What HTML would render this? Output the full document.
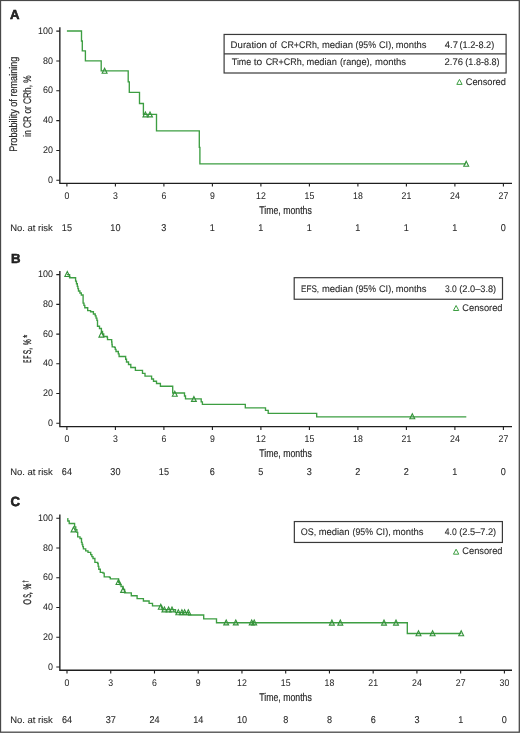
<!DOCTYPE html>
<html><head><meta charset="utf-8"><style>
html,body{margin:0;padding:0;background:#fff;overflow:hidden;}
svg{display:block;filter:blur(0.3px);}
text{font-family:"Liberation Sans",sans-serif;fill:#2a2a2a;stroke:#2a2a2a;stroke-width:0.1px;text-rendering:geometricPrecision;}
.c{stroke:#2a2a2a;stroke-width:0.2px;}
.cb{stroke:#2a2a2a;stroke-width:0.38px;}
.t{stroke-width:0.05px;}
</style></head><body>
<svg width="520" height="733" viewBox="0 0 520 733">
<rect x="0" y="0" width="520" height="733" fill="#fff"/>
<rect x="0.5" y="0.45" width="518.8" height="731.75" fill="none" stroke="#484848" stroke-width="1.3"/>
<text x="10" y="19.2" font-size="13.2" font-weight="bold" fill="#000" style="stroke:#000;stroke-width:0.5px">A</text>
<path d="M59.85,27.2V183.3H512" fill="none" stroke="#1e1e1e" stroke-width="1.35"/>
<text x="53" y="182.9" font-size="9.6" text-anchor="end" textLength="4.96" lengthAdjust="spacingAndGlyphs" class="t">0</text>
<text x="53" y="153.06" font-size="9.6" text-anchor="end" textLength="9.93" lengthAdjust="spacingAndGlyphs" class="t">20</text>
<text x="53" y="123.22" font-size="9.6" text-anchor="end" textLength="9.93" lengthAdjust="spacingAndGlyphs" class="t">40</text>
<text x="53" y="93.38" font-size="9.6" text-anchor="end" textLength="9.93" lengthAdjust="spacingAndGlyphs" class="t">60</text>
<text x="53" y="63.54" font-size="9.6" text-anchor="end" textLength="9.93" lengthAdjust="spacingAndGlyphs" class="t">80</text>
<text x="53" y="33.7" font-size="9.6" text-anchor="end" textLength="14.89" lengthAdjust="spacingAndGlyphs" class="t">100</text>
<text x="66.9" y="198.9" font-size="9.7" text-anchor="middle" textLength="4.85" lengthAdjust="spacingAndGlyphs" class="t">0</text>
<text x="115.4" y="198.9" font-size="9.7" text-anchor="middle" textLength="4.85" lengthAdjust="spacingAndGlyphs" class="t">3</text>
<text x="163.9" y="198.9" font-size="9.7" text-anchor="middle" textLength="4.85" lengthAdjust="spacingAndGlyphs" class="t">6</text>
<text x="212.4" y="198.9" font-size="9.7" text-anchor="middle" textLength="4.85" lengthAdjust="spacingAndGlyphs" class="t">9</text>
<text x="260.9" y="198.9" font-size="9.7" text-anchor="middle" textLength="9.71" lengthAdjust="spacingAndGlyphs" class="t">12</text>
<text x="309.4" y="198.9" font-size="9.7" text-anchor="middle" textLength="9.71" lengthAdjust="spacingAndGlyphs" class="t">15</text>
<text x="357.9" y="198.9" font-size="9.7" text-anchor="middle" textLength="9.71" lengthAdjust="spacingAndGlyphs" class="t">18</text>
<text x="406.4" y="198.9" font-size="9.7" text-anchor="middle" textLength="9.71" lengthAdjust="spacingAndGlyphs" class="t">21</text>
<text x="454.9" y="198.9" font-size="9.7" text-anchor="middle" textLength="9.71" lengthAdjust="spacingAndGlyphs" class="t">24</text>
<text x="503.4" y="198.9" font-size="9.7" text-anchor="middle" textLength="9.71" lengthAdjust="spacingAndGlyphs" class="t">27</text>
<path d="M56.3,180.3H59.85M56.3,150.46H59.85M56.3,120.62H59.85M56.3,90.78H59.85M56.3,60.94H59.85M56.3,31.1H59.85M66.9,183.3V186.6M115.4,183.3V186.6M163.9,183.3V186.6M212.4,183.3V186.6M260.9,183.3V186.6M309.4,183.3V186.6M357.9,183.3V186.6M406.4,183.3V186.6M454.9,183.3V186.6M503.4,183.3V186.6" stroke="#1e1e1e" stroke-width="1.1"/>
<text x="285.5" y="213.7" font-size="11.2" text-anchor="middle" textLength="52.6" lengthAdjust="spacingAndGlyphs" class="c">Time, months</text>
<text x="10.2" y="231.3" font-size="9.4" textLength="42.6" lengthAdjust="spacingAndGlyphs">No. at risk</text>
<text x="66.9" y="231.3" font-size="9.9" text-anchor="middle" textLength="10.13" lengthAdjust="spacingAndGlyphs">15</text>
<text x="115.4" y="231.3" font-size="9.9" text-anchor="middle" textLength="10.13" lengthAdjust="spacingAndGlyphs">10</text>
<text x="163.9" y="231.3" font-size="9.9" text-anchor="middle" textLength="5.06" lengthAdjust="spacingAndGlyphs">3</text>
<text x="212.4" y="231.3" font-size="9.9" text-anchor="middle" textLength="5.06" lengthAdjust="spacingAndGlyphs">1</text>
<text x="260.9" y="231.3" font-size="9.9" text-anchor="middle" textLength="5.06" lengthAdjust="spacingAndGlyphs">1</text>
<text x="309.4" y="231.3" font-size="9.9" text-anchor="middle" textLength="5.06" lengthAdjust="spacingAndGlyphs">1</text>
<text x="357.9" y="231.3" font-size="9.9" text-anchor="middle" textLength="5.06" lengthAdjust="spacingAndGlyphs">1</text>
<text x="406.4" y="231.3" font-size="9.9" text-anchor="middle" textLength="5.06" lengthAdjust="spacingAndGlyphs">1</text>
<text x="454.9" y="231.3" font-size="9.9" text-anchor="middle" textLength="5.06" lengthAdjust="spacingAndGlyphs">1</text>
<text x="503.4" y="231.3" font-size="9.9" text-anchor="middle" textLength="5.06" lengthAdjust="spacingAndGlyphs">0</text>
<text transform="translate(16.8,104.2) rotate(-90)" x="0" y="0" font-size="11.0" text-anchor="middle" textLength="95.2" lengthAdjust="spacingAndGlyphs" class="c">Probability of remaining</text>
<text transform="translate(30.8,106) rotate(-90)" x="0" y="0" font-size="11.0" text-anchor="middle" textLength="61.4" lengthAdjust="spacingAndGlyphs" class="c">in CR or CRh, %</text>
<path d="M66.9,31H81.5V41H82.3V50.8H85.4V60.8H101.2V70.8H128.2V81.9H129.3V92.4H139.5V103.5H143.4V114.4H156.5V130.8H199.3V147.4H199.9V163.8H466" fill="none" stroke="#3d9e42" stroke-width="1.35"/>
<g fill="none" stroke="#34923a" stroke-width="1.1"><path d="M104.6,68.3L107.05,73.3H102.15Z"/><path d="M145.4,111.9L147.85,116.9H142.95Z"/><path d="M150,111.9L152.45,116.9H147.55Z"/><path d="M466.2,161.3L468.65,166.3H463.75Z"/></g>
<rect x="224.1" y="34.45" width="282" height="38.55" fill="#fff" stroke="#3a3a3a" stroke-width="1.2"/>
<text x="230.63" y="47.7" font-size="9.6" textLength="36.29" lengthAdjust="spacingAndGlyphs">Duration</text>
<text x="269.75" y="47.7" font-size="9.6" textLength="7.24" lengthAdjust="spacingAndGlyphs">of</text>
<text x="280.95" y="47.7" font-size="9.6" textLength="38.42" lengthAdjust="spacingAndGlyphs">CR+CRh,</text>
<text x="321.99" y="47.7" font-size="9.6" textLength="30.92" lengthAdjust="spacingAndGlyphs">median</text>
<text x="355.58" y="47.7" font-size="9.6" textLength="20.43" lengthAdjust="spacingAndGlyphs">(95%</text>
<text x="378.94" y="47.7" font-size="9.6" textLength="14.85" lengthAdjust="spacingAndGlyphs">CI),</text>
<text x="395.69" y="47.7" font-size="9.6" textLength="30.83" lengthAdjust="spacingAndGlyphs">months</text>
<text x="444.81" y="47.7" font-size="9.6" textLength="13.27" lengthAdjust="spacingAndGlyphs">4.7</text>
<text x="459.55" y="47.7" font-size="9.6" textLength="34.64" lengthAdjust="spacingAndGlyphs">(1.2-8.2)</text>
<path d="M224.1,53.9H506.1" stroke="#3a3a3a" stroke-width="1.2"/>
<text x="231.82" y="65.2" font-size="9.6" textLength="19.38" lengthAdjust="spacingAndGlyphs">Time</text>
<text x="253.65" y="65.2" font-size="9.6" textLength="8.55" lengthAdjust="spacingAndGlyphs">to</text>
<text x="265.65" y="65.2" font-size="9.6" textLength="38.63" lengthAdjust="spacingAndGlyphs">CR+CRh,</text>
<text x="306.5" y="65.2" font-size="9.6" textLength="30.4" lengthAdjust="spacingAndGlyphs">median</text>
<text x="340.05" y="65.2" font-size="9.6" textLength="32.04" lengthAdjust="spacingAndGlyphs">(range),</text>
<text x="374.98" y="65.2" font-size="9.6" textLength="31.14" lengthAdjust="spacingAndGlyphs">months</text>
<text x="444.53" y="65.2" font-size="9.6" textLength="18.47" lengthAdjust="spacingAndGlyphs">2.76</text>
<text x="465.36" y="65.2" font-size="9.6" textLength="34.12" lengthAdjust="spacingAndGlyphs">(1.8-8.8)</text>
<g fill="none" stroke="#3d9e42" stroke-width="1.0"><path d="M459.45,79.4L462.1,84.4H456.8Z"/></g>
<text x="465.74" y="84.7" font-size="9.6" textLength="40.18" lengthAdjust="spacingAndGlyphs">Censored</text>
<text x="10.9" y="262.6" font-size="13.2" font-weight="bold" fill="#000" style="stroke:#000;stroke-width:0.5px">B</text>
<path d="M59.85,271V426.6H512" fill="none" stroke="#1e1e1e" stroke-width="1.35"/>
<text x="53" y="425.9" font-size="9.6" text-anchor="end" textLength="4.96" lengthAdjust="spacingAndGlyphs" class="t">0</text>
<text x="53" y="396.16" font-size="9.6" text-anchor="end" textLength="9.93" lengthAdjust="spacingAndGlyphs" class="t">20</text>
<text x="53" y="366.42" font-size="9.6" text-anchor="end" textLength="9.93" lengthAdjust="spacingAndGlyphs" class="t">40</text>
<text x="53" y="336.68" font-size="9.6" text-anchor="end" textLength="9.93" lengthAdjust="spacingAndGlyphs" class="t">60</text>
<text x="53" y="306.94" font-size="9.6" text-anchor="end" textLength="9.93" lengthAdjust="spacingAndGlyphs" class="t">80</text>
<text x="53" y="277.2" font-size="9.6" text-anchor="end" textLength="14.89" lengthAdjust="spacingAndGlyphs" class="t">100</text>
<text x="66.9" y="442.2" font-size="9.7" text-anchor="middle" textLength="4.85" lengthAdjust="spacingAndGlyphs" class="t">0</text>
<text x="115.4" y="442.2" font-size="9.7" text-anchor="middle" textLength="4.85" lengthAdjust="spacingAndGlyphs" class="t">3</text>
<text x="163.9" y="442.2" font-size="9.7" text-anchor="middle" textLength="4.85" lengthAdjust="spacingAndGlyphs" class="t">6</text>
<text x="212.4" y="442.2" font-size="9.7" text-anchor="middle" textLength="4.85" lengthAdjust="spacingAndGlyphs" class="t">9</text>
<text x="260.9" y="442.2" font-size="9.7" text-anchor="middle" textLength="9.71" lengthAdjust="spacingAndGlyphs" class="t">12</text>
<text x="309.4" y="442.2" font-size="9.7" text-anchor="middle" textLength="9.71" lengthAdjust="spacingAndGlyphs" class="t">15</text>
<text x="357.9" y="442.2" font-size="9.7" text-anchor="middle" textLength="9.71" lengthAdjust="spacingAndGlyphs" class="t">18</text>
<text x="406.4" y="442.2" font-size="9.7" text-anchor="middle" textLength="9.71" lengthAdjust="spacingAndGlyphs" class="t">21</text>
<text x="454.9" y="442.2" font-size="9.7" text-anchor="middle" textLength="9.71" lengthAdjust="spacingAndGlyphs" class="t">24</text>
<text x="503.4" y="442.2" font-size="9.7" text-anchor="middle" textLength="9.71" lengthAdjust="spacingAndGlyphs" class="t">27</text>
<path d="M56.3,423.3H59.85M56.3,393.56H59.85M56.3,363.82H59.85M56.3,334.08H59.85M56.3,304.34H59.85M56.3,274.6H59.85M66.9,426.6V429.9M115.4,426.6V429.9M163.9,426.6V429.9M212.4,426.6V429.9M260.9,426.6V429.9M309.4,426.6V429.9M357.9,426.6V429.9M406.4,426.6V429.9M454.9,426.6V429.9M503.4,426.6V429.9" stroke="#1e1e1e" stroke-width="1.1"/>
<text x="285.5" y="457" font-size="11.2" text-anchor="middle" textLength="52.6" lengthAdjust="spacingAndGlyphs" class="c">Time, months</text>
<text x="10.2" y="474.9" font-size="9.4" textLength="42.6" lengthAdjust="spacingAndGlyphs">No. at risk</text>
<text x="66.9" y="474.9" font-size="9.9" text-anchor="middle" textLength="10.13" lengthAdjust="spacingAndGlyphs">64</text>
<text x="115.4" y="474.9" font-size="9.9" text-anchor="middle" textLength="10.13" lengthAdjust="spacingAndGlyphs">30</text>
<text x="163.9" y="474.9" font-size="9.9" text-anchor="middle" textLength="10.13" lengthAdjust="spacingAndGlyphs">15</text>
<text x="212.4" y="474.9" font-size="9.9" text-anchor="middle" textLength="5.06" lengthAdjust="spacingAndGlyphs">6</text>
<text x="260.9" y="474.9" font-size="9.9" text-anchor="middle" textLength="5.06" lengthAdjust="spacingAndGlyphs">5</text>
<text x="309.4" y="474.9" font-size="9.9" text-anchor="middle" textLength="5.06" lengthAdjust="spacingAndGlyphs">3</text>
<text x="357.9" y="474.9" font-size="9.9" text-anchor="middle" textLength="5.06" lengthAdjust="spacingAndGlyphs">2</text>
<text x="406.4" y="474.9" font-size="9.9" text-anchor="middle" textLength="5.06" lengthAdjust="spacingAndGlyphs">2</text>
<text x="454.9" y="474.9" font-size="9.9" text-anchor="middle" textLength="5.06" lengthAdjust="spacingAndGlyphs">1</text>
<text x="503.4" y="474.9" font-size="9.9" text-anchor="middle" textLength="5.06" lengthAdjust="spacingAndGlyphs">0</text>
<text transform="translate(30.9,362.4) rotate(-90)" x="-0.37" y="0" font-size="11.0" textLength="3.06" lengthAdjust="spacingAndGlyphs" class="cb">E</text>
<text transform="translate(30.9,358.4) rotate(-90)" x="-0.41" y="0" font-size="11.0" textLength="3.12" lengthAdjust="spacingAndGlyphs" class="cb">F</text>
<text transform="translate(30.9,353.9) rotate(-90)" x="-0.3" y="0" font-size="11.0" textLength="4.41" lengthAdjust="spacingAndGlyphs" class="cb">S</text>
<text transform="translate(30.9,349.2) rotate(-90)" x="-0.63" y="0" font-size="11.0" textLength="1.94" lengthAdjust="spacingAndGlyphs" class="cb">,</text>
<text transform="translate(30.9,344.9) rotate(-90)" x="-0.23" y="0" font-size="11.0" textLength="5.75" lengthAdjust="spacingAndGlyphs" class="cb">%</text>
<text transform="translate(30.9,337.7) rotate(-90)" x="-0.11" y="0" font-size="11.5" textLength="2.92" lengthAdjust="spacingAndGlyphs" class="cb">*</text>
<path d="M66.9,274.6H69.6V277.7H74.4H75.6V281.1H76.45V283.7H77.3V286.3H77.9V288.65H78.5V291H79.9V293H81.3V295H83.1V297.9V303.1H83.95V305.4H84.8V307.7H87.7V310.6H90.6V311.7H93.4V314H95.2V315.8H96.05V318.1H96.9V320.4H97.5V326.2H99.5V328.5H101.4V331.5H102.55V334H103.7V336.5H107.2V337.3H107.5V339.6H111.4H111.67V342.03H111.93V344.47H112.2V346.9H114.5V347.3H115.25V349.4H116V351.5H118.3V353.8H119.1V356.5H124.8H125.65V359.25H126.5V362H128.5V364.5H130.8V367.5H135.4V370.4H141.9H142.5V373.3H145V376.1H151.6V379H153.5V381.2H156.5V383.5H160.4V386.2H172.7V393H183.9H184.5V396H185.5V398.8H200.4H201.2V401.8H202.4V404.4H245.3V407.8H265.5V410.4H268.2V413.4H316.7V416.8H466.3" fill="none" stroke="#3d9e42" stroke-width="1.35"/>
<g fill="none" stroke="#34923a" stroke-width="1.1"><path d="M67.3,271.5L69.75,276.5H64.85Z"/><path d="M101.4,332.1L103.85,337.1H98.95Z"/><path d="M174.8,391.2L177.25,396.2H172.35Z"/><path d="M193.9,396.4L196.35,401.4H191.45Z"/><path d="M412.3,413.8L414.75,418.8H409.85Z"/></g>
<rect x="294.2" y="277.7" width="208.3" height="21.55" fill="#fff" stroke="#3a3a3a" stroke-width="1.2"/>
<text x="301.05" y="291.5" font-size="9.6" textLength="18.06" lengthAdjust="spacingAndGlyphs">EFS,</text>
<text x="321.99" y="291.5" font-size="9.6" textLength="30.92" lengthAdjust="spacingAndGlyphs">median</text>
<text x="355.58" y="291.5" font-size="9.6" textLength="20.43" lengthAdjust="spacingAndGlyphs">(95%</text>
<text x="378.94" y="291.5" font-size="9.6" textLength="14.85" lengthAdjust="spacingAndGlyphs">CI),</text>
<text x="395.69" y="291.5" font-size="9.6" textLength="30.83" lengthAdjust="spacingAndGlyphs">months</text>
<text x="444.96" y="291.5" font-size="9.6" textLength="11.84" lengthAdjust="spacingAndGlyphs">3.0</text>
<text x="459.25" y="291.5" font-size="9.6" textLength="36.93" lengthAdjust="spacingAndGlyphs">(2.0–3.8)</text>
<g fill="none" stroke="#3d9e42" stroke-width="1.0"><path d="M456.1,305.5L458.75,310.5H453.45Z"/></g>
<text x="462.34" y="310.8" font-size="9.6" textLength="40.18" lengthAdjust="spacingAndGlyphs">Censored</text>
<text x="10.5" y="506" font-size="13.2" font-weight="bold" fill="#000" style="stroke:#000;stroke-width:0.5px">C</text>
<path d="M59.85,514.5V670.2H512" fill="none" stroke="#1e1e1e" stroke-width="1.35"/>
<text x="53" y="669.6" font-size="9.6" text-anchor="end" textLength="4.96" lengthAdjust="spacingAndGlyphs" class="t">0</text>
<text x="53" y="639.86" font-size="9.6" text-anchor="end" textLength="9.93" lengthAdjust="spacingAndGlyphs" class="t">20</text>
<text x="53" y="610.12" font-size="9.6" text-anchor="end" textLength="9.93" lengthAdjust="spacingAndGlyphs" class="t">40</text>
<text x="53" y="580.38" font-size="9.6" text-anchor="end" textLength="9.93" lengthAdjust="spacingAndGlyphs" class="t">60</text>
<text x="53" y="550.64" font-size="9.6" text-anchor="end" textLength="9.93" lengthAdjust="spacingAndGlyphs" class="t">80</text>
<text x="53" y="520.9" font-size="9.6" text-anchor="end" textLength="14.89" lengthAdjust="spacingAndGlyphs" class="t">100</text>
<text x="67" y="685.8" font-size="9.7" text-anchor="middle" textLength="4.85" lengthAdjust="spacingAndGlyphs" class="t">0</text>
<text x="110.74" y="685.8" font-size="9.7" text-anchor="middle" textLength="4.85" lengthAdjust="spacingAndGlyphs" class="t">3</text>
<text x="154.48" y="685.8" font-size="9.7" text-anchor="middle" textLength="4.85" lengthAdjust="spacingAndGlyphs" class="t">6</text>
<text x="198.22" y="685.8" font-size="9.7" text-anchor="middle" textLength="4.85" lengthAdjust="spacingAndGlyphs" class="t">9</text>
<text x="241.96" y="685.8" font-size="9.7" text-anchor="middle" textLength="9.71" lengthAdjust="spacingAndGlyphs" class="t">12</text>
<text x="285.7" y="685.8" font-size="9.7" text-anchor="middle" textLength="9.71" lengthAdjust="spacingAndGlyphs" class="t">15</text>
<text x="329.44" y="685.8" font-size="9.7" text-anchor="middle" textLength="9.71" lengthAdjust="spacingAndGlyphs" class="t">18</text>
<text x="373.18" y="685.8" font-size="9.7" text-anchor="middle" textLength="9.71" lengthAdjust="spacingAndGlyphs" class="t">21</text>
<text x="416.92" y="685.8" font-size="9.7" text-anchor="middle" textLength="9.71" lengthAdjust="spacingAndGlyphs" class="t">24</text>
<text x="460.66" y="685.8" font-size="9.7" text-anchor="middle" textLength="9.71" lengthAdjust="spacingAndGlyphs" class="t">27</text>
<text x="504.4" y="685.8" font-size="9.7" text-anchor="middle" textLength="9.71" lengthAdjust="spacingAndGlyphs" class="t">30</text>
<path d="M56.3,667H59.85M56.3,637.26H59.85M56.3,607.52H59.85M56.3,577.78H59.85M56.3,548.04H59.85M56.3,518.3H59.85M67,670.2V673.5M110.74,670.2V673.5M154.48,670.2V673.5M198.22,670.2V673.5M241.96,670.2V673.5M285.7,670.2V673.5M329.44,670.2V673.5M373.18,670.2V673.5M416.92,670.2V673.5M460.66,670.2V673.5M504.4,670.2V673.5" stroke="#1e1e1e" stroke-width="1.1"/>
<text x="285.5" y="700.9" font-size="11.2" text-anchor="middle" textLength="52.6" lengthAdjust="spacingAndGlyphs" class="c">Time, months</text>
<text x="10.2" y="722.5" font-size="9.4" textLength="42.6" lengthAdjust="spacingAndGlyphs">No. at risk</text>
<text x="67" y="722.5" font-size="9.9" text-anchor="middle" textLength="10.13" lengthAdjust="spacingAndGlyphs">64</text>
<text x="110.74" y="722.5" font-size="9.9" text-anchor="middle" textLength="10.13" lengthAdjust="spacingAndGlyphs">37</text>
<text x="154.48" y="722.5" font-size="9.9" text-anchor="middle" textLength="10.13" lengthAdjust="spacingAndGlyphs">24</text>
<text x="198.22" y="722.5" font-size="9.9" text-anchor="middle" textLength="10.13" lengthAdjust="spacingAndGlyphs">14</text>
<text x="241.96" y="722.5" font-size="9.9" text-anchor="middle" textLength="10.13" lengthAdjust="spacingAndGlyphs">10</text>
<text x="285.7" y="722.5" font-size="9.9" text-anchor="middle" textLength="5.06" lengthAdjust="spacingAndGlyphs">8</text>
<text x="329.44" y="722.5" font-size="9.9" text-anchor="middle" textLength="5.06" lengthAdjust="spacingAndGlyphs">8</text>
<text x="373.18" y="722.5" font-size="9.9" text-anchor="middle" textLength="5.06" lengthAdjust="spacingAndGlyphs">6</text>
<text x="416.92" y="722.5" font-size="9.9" text-anchor="middle" textLength="5.06" lengthAdjust="spacingAndGlyphs">3</text>
<text x="460.66" y="722.5" font-size="9.9" text-anchor="middle" textLength="5.06" lengthAdjust="spacingAndGlyphs">1</text>
<text x="504.4" y="722.5" font-size="9.9" text-anchor="middle" textLength="5.06" lengthAdjust="spacingAndGlyphs">0</text>
<text transform="translate(30.9,604.5) rotate(-90)" x="-0.34" y="0" font-size="11.0" textLength="5.79" lengthAdjust="spacingAndGlyphs" class="cb">O</text>
<text transform="translate(30.9,597.6) rotate(-90)" x="-0.25" y="0" font-size="11.0" textLength="3.71" lengthAdjust="spacingAndGlyphs" class="cb">S</text>
<text transform="translate(30.9,593.6) rotate(-90)" x="-0.81" y="0" font-size="11.0" textLength="2.5" lengthAdjust="spacingAndGlyphs" class="cb">,</text>
<text transform="translate(30.9,589.3) rotate(-90)" x="-0.23" y="0" font-size="11.0" textLength="5.86" lengthAdjust="spacingAndGlyphs" class="cb">%</text>
<text transform="translate(28.3,582.6) rotate(-90)" x="0" y="0" font-size="8.0" text-anchor="start" textLength="2.6" lengthAdjust="spacingAndGlyphs" class="c">†</text>
<path d="M67.3,518.6H67.8V521H69.2V523.5H73.8H74.6V526.9H75.75V529.6H76.9V532.3H77.7V536.9H80V538.5H81.5V542.3H82.13V544.47H82.77V546.63H83.4V548.8H85.7V550.8H88V552.3H90.7V554.6H91.85V556.55H93V558.5H94.9V562.3H97.6V563.5H98.2V566.35H98.8V569.2H100.3V572.3H103V573.1H104.2V576.9H109.5V577.3H110.3V578.8H117H118.6V582.5H119.8V584.5H121V586.5H123V589.5H124.6V592.8H131.3V595.7H137.1V598.6H143.4V601H149.1V603.4H152.5V605.8H159.2H161.5V607.3H162V609.6H175.5V612.6H188.5V615H203.7V618.8H216.5V622.7H407.3V633.5H461.3" fill="none" stroke="#3d9e42" stroke-width="1.35"/>
<g fill="none" stroke="#34923a" stroke-width="1.1"><path d="M73.5,526.9L75.95,531.9H71.05Z"/><path d="M118.5,579.5L120.95,584.5H116.05Z"/><path d="M123.1,587.4L125.55,592.4H120.65Z"/><path d="M160.8,604.3L163.25,609.3H158.35Z"/><path d="M164.4,606.9L166.85,611.9H161.95Z"/><path d="M168.6,606.9L171.05,611.9H166.15Z"/><path d="M172,606.9L174.45,611.9H169.55Z"/><path d="M178.3,609.7L180.75,614.7H175.85Z"/><path d="M181.9,609.7L184.35,614.7H179.45Z"/><path d="M184.6,609.7L187.05,614.7H182.15Z"/><path d="M188.3,609.7L190.75,614.7H185.85Z"/><path d="M226.2,619.9L228.65,624.9H223.75Z"/><path d="M235.8,619.9L238.25,624.9H233.35Z"/><path d="M251.7,619.9L254.15,624.9H249.25Z"/><path d="M254.2,619.9L256.65,624.9H251.75Z"/><path d="M331.9,620.1L334.35,625.1H329.45Z"/><path d="M340.3,620.1L342.75,625.1H337.85Z"/><path d="M384,620.1L386.45,625.1H381.55Z"/><path d="M396,620.1L398.45,625.1H393.55Z"/><path d="M418.5,630.8L420.95,635.8H416.05Z"/><path d="M432.6,630.8L435.05,635.8H430.15Z"/><path d="M461.2,630.8L463.65,635.8H458.75Z"/></g>
<rect x="294.35" y="521.55" width="208.05" height="20.9" fill="#fff" stroke="#3a3a3a" stroke-width="1.2"/>
<text x="300.8" y="535.1" font-size="9.6" textLength="15.49" lengthAdjust="spacingAndGlyphs">OS,</text>
<text x="318.69" y="535.1" font-size="9.6" textLength="30.92" lengthAdjust="spacingAndGlyphs">median</text>
<text x="352.58" y="535.1" font-size="9.6" textLength="20.43" lengthAdjust="spacingAndGlyphs">(95%</text>
<text x="375.94" y="535.1" font-size="9.6" textLength="14.85" lengthAdjust="spacingAndGlyphs">CI),</text>
<text x="392.69" y="535.1" font-size="9.6" textLength="30.83" lengthAdjust="spacingAndGlyphs">months</text>
<text x="444.83" y="535.1" font-size="9.6" textLength="11.98" lengthAdjust="spacingAndGlyphs">4.0</text>
<text x="459.25" y="535.1" font-size="9.6" textLength="36.93" lengthAdjust="spacingAndGlyphs">(2.5–7.2)</text>
<g fill="none" stroke="#3d9e42" stroke-width="1.0"><path d="M456.1,549.2L458.75,554.2H453.45Z"/></g>
<text x="462.34" y="554.2" font-size="9.6" textLength="40.18" lengthAdjust="spacingAndGlyphs">Censored</text>
</svg>
</body></html>
